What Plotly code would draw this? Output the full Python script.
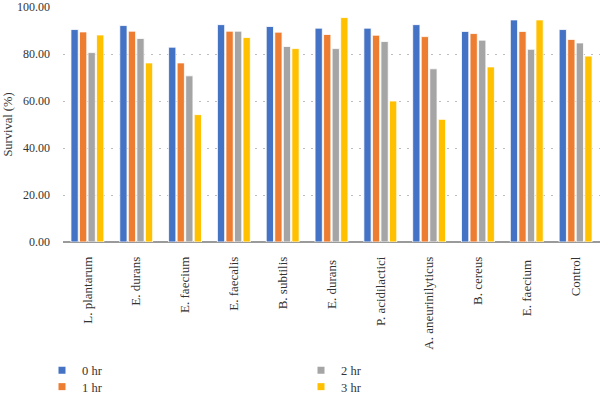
import plotly.graph_objects as go

categories = ["L. plantarum", "E. durans", "E. faecium", "E. faecalis", "B. subtilis",
              "E. durans ", "P. acidilactici", "A. aneurinilyticus", "B. cereus",
              "E. faecium ", "Control"]
hr0 = [90.4, 92.1, 82.9, 92.5, 91.7, 91.0, 91.0, 92.5, 89.6, 94.5, 90.4]
hr1 = [89.4, 89.7, 76.2, 89.7, 89.3, 88.3, 88.0, 87.4, 88.7, 89.6, 86.2]
hr2 = [80.6, 86.6, 70.7, 89.7, 83.2, 82.3, 85.3, 73.7, 85.9, 82.0, 84.7]
hr3 = [88.1, 76.2, 54.2, 87.0, 82.3, 95.5, 60.0, 52.2, 74.5, 94.5, 79.1]
series_names = ["0 hr", "1 hr", "2 hr", "3 hr"]
colors = ["#4472C4", "#ED7D31", "#A5A5A5", "#FFC000"]

font_family = "Liberation Serif, Times New Roman, serif"
text_color = "#333333"

fig = go.Figure()
legend_ids = ["legend", "legend2", "legend3", "legend4"]
for name, vals, col, lg in zip(series_names, [hr0, hr1, hr2, hr3], colors, legend_ids):
    fig.add_trace(go.Bar(x=categories, y=vals, name=name, marker_color=col,
                         marker_line_color="white", marker_line_width=0.8,
                         showlegend=False))
    # legend-only entry with a small square swatch
    fig.add_trace(go.Scatter(x=[None], y=[None], mode="markers", name=name,
                             marker=dict(symbol="square", size=7, color=col),
                             legend=lg, showlegend=True, hoverinfo="skip"))

# legend placement (paper coords relative to plot domain)
L, W = 63, 537
T, B = 7, 242.3
def px_x(p):
    return (p - L) / W
def px_y(p):
    return (B - p) / (B - T)

leg_common = dict(orientation="v", xanchor="left", yanchor="middle",
                  font=dict(size=12.5, family=font_family, color=text_color),
                  itemwidth=30, bgcolor="rgba(0,0,0,0)", borderwidth=0)
fig.update_layout(
    width=600, height=395,
    margin=dict(l=L, r=0, t=T, b=395 - B, autoexpand=False),
    paper_bgcolor="white", plot_bgcolor="white",
    barmode="group", bargap=0.3, bargroupgap=0.15,
    font=dict(family=font_family, size=12, color=text_color),
    showlegend=True,
    legend=dict(x=px_x(42), y=px_y(371), **leg_common),
    legend2=dict(x=px_x(42), y=px_y(387.5), **leg_common),
    legend3=dict(x=px_x(301), y=px_y(371), **leg_common),
    legend4=dict(x=px_x(301), y=px_y(387.5), **leg_common),
)
fig.update_yaxes(range=[0, 100], dtick=20, tickformat=".2f", automargin=False,
                 showgrid=True, gridcolor="#bdbdbd", griddash="2px,6px", gridwidth=1,
                 zeroline=True, zerolinecolor="#9a9a9a", zerolinewidth=2,
                 showline=False, ticks="", ticklabelstandoff=12,
                 title=dict(text="Survival (%)", font=dict(size=12.5, family=font_family, color=text_color), standoff=1),
                 tickfont=dict(size=12, family=font_family, color=text_color))
fig.update_xaxes(tickangle=-90, showgrid=False, showline=False, ticks="", automargin=False,
                 ticklabelstandoff=11,
                 tickfont=dict(size=13, family=font_family, color=text_color))

fig.write_html("out.html", config={"displayModeBar": False},
               post_script="document.body.style.margin='0';")
